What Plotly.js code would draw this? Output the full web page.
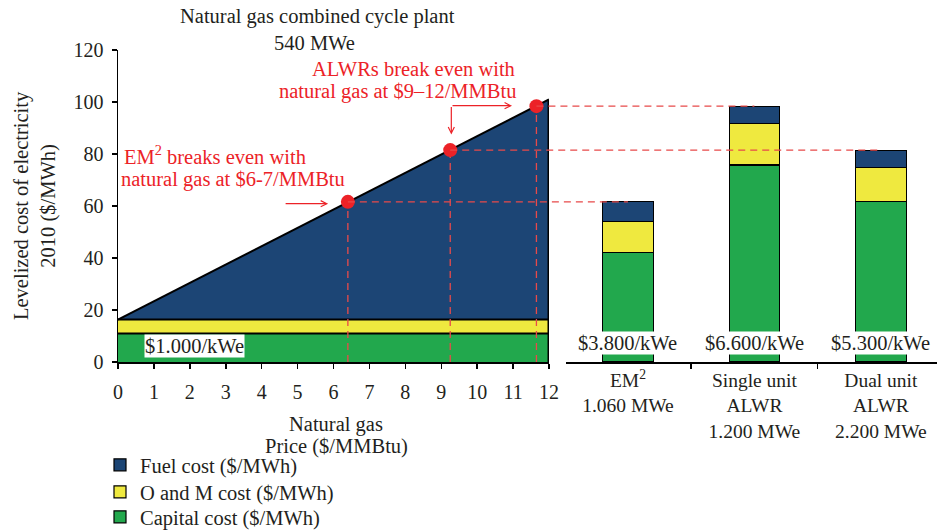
<!DOCTYPE html>
<html>
<head>
<meta charset="utf-8">
<script src="https://cdn.plot.ly/plotly-3.0.1.min.js"></script>
<style>html,body{margin:0;padding:0;background:#fff;}#chart{width:937px;height:531px;}</style>
</head>
<body>
<div id="chart"></div>
<script>
// ---- data ----
const gasPrice = [0, 12];
const gasCapital = [11, 11];
const gasOM = [5.3, 5.3];
const gasFuel = [0, 84.7];
const gasPlantCost = '$1.000/kWe';

const plantCats = ['EM<sup>2</sup><br>1.060 MWe', 'Single unit<br>ALWR<br>1.200 MWe', 'Dual unit<br>ALWR<br>2.200 MWe'];
const barCapital = [42.0, 75.8, 61.6];
const barOM = [11.9, 16.0, 13.3];
const barFuel = [7.7, 6.6, 6.6];
const overnightCost = ['$3.800/kWe', '$6.600/kWe', '$5.300/kWe'];
const breakEvenPrice = [6.4, 11.65, 9.25];

const seriesNames = ['Capital cost ($/MWh)', 'O and M cost ($/MWh)', 'Fuel cost ($/MWh)'];

// ---- styling ----
const W = 937, H = 531, T = 50, B = 169;
const plotH = H - T - B;
const px = x => x / W;
const py = y => (H - B - y) / plotH;
const GREEN = '#22a84d', YELLOW = '#efe93f', BLUE = '#1c4575';
const RED = '#ec2227', DASH = '#e84a4a';
const FONT = 'Liberation Serif, Times New Roman, serif';
const TXT = '#231f20';
const leftDom = [px(118), px(549)];
const rightDom = [px(566), 1];
const leftRange = [0, 12];
const rightRange = [-0.49, 2.444];

const totals = barCapital.map((c, i) => c + barOM[i] + barFuel[i]);
const last = gasPrice.length - 1;
const gasEndTotal = gasCapital[last] + gasOM[last] + gasFuel[last];

const traces = [];
// area (left)
const areaData = [gasCapital, gasOM, gasFuel];
const areaColors = [GREEN, YELLOW, BLUE];
areaData.forEach((d, i) => traces.push({
  x: gasPrice, y: d, type: 'scatter', mode: 'lines', stackgroup: 'gas',
  line: {color: '#000', width: 2}, fillcolor: areaColors[i],
  xaxis: 'x', yaxis: 'y', showlegend: false, hoverinfo: 'skip'
}));
traces.push({x: [gasPrice[last], gasPrice[last]], y: [0, gasEndTotal], type: 'scatter', mode: 'lines',
  line: {color: '#000', width: 3}, xaxis: 'x', yaxis: 'y', showlegend: false, hoverinfo: 'skip'});
// vertical dashed lines
breakEvenPrice.forEach((p, i) => traces.push({
  x: [p, p], y: [0, totals[i]], type: 'scatter', mode: 'lines',
  line: {color: DASH, width: 1.3, dash: '7px,5px'}, xaxis: 'x', yaxis: 'y', showlegend: false, hoverinfo: 'skip'
}));
// bars (right)
const barData = [barCapital, barOM, barFuel];
const legendIds = ['legend3', 'legend2', 'legend'];
barData.forEach((d, i) => traces.push({
  x: plantCats, y: d, type: 'bar', name: seriesNames[i], legend: legendIds[i],
  marker: {color: areaColors[i], line: {color: '#000', width: 1.2}},
  xaxis: 'x2', yaxis: 'y2'
}));
// dots
traces.push({x: breakEvenPrice, y: totals, type: 'scatter', mode: 'markers',
  marker: {color: RED, size: 14}, cliponaxis: false, xaxis: 'x', yaxis: 'y', showlegend: false, hoverinfo: 'skip'});

// horizontal dashed shapes
const shapes = breakEvenPrice.map((p, i) => ({
  type: 'line', xref: 'paper', yref: 'y',
  x0: leftDom[0] + (p - leftRange[0]) / (leftRange[1] - leftRange[0]) * (leftDom[1] - leftDom[0]),
  x1: rightDom[0] + (i - rightRange[0]) / (rightRange[1] - rightRange[0]) * (rightDom[1] - rightDom[0]),
  y0: totals[i], y1: totals[i],
  line: {color: DASH, width: 1.3, dash: '7px,5px'}
}));

const f = (size, color) => ({family: FONT, size: size, color: color || TXT});
const A = (text, x, y, xa, font, extra) => Object.assign({text: text, xref: 'paper', yref: 'paper', x: px(x), y: py(y),
  xanchor: xa, yanchor: 'middle', showarrow: false, font: font}, extra || {});
const annotations = [
  A('Natural gas combined cycle plant', 317, 17, 'center', f(20.5)),
  A('540 MWe', 314, 43, 'center', f(20.5)),
  A('ALWRs break even with', 517, 69, 'right', f(20.5, RED)),
  A('natural gas at $9–12/MMBtu', 518, 91, 'right', f(20.5, RED)),
  A('EM<sup>2</sup> breaks even with', 122, 155, 'left', f(20.5, RED)),
  A('natural gas at $6-7/MMBtu', 119, 179, 'left', f(20.5, RED)),
  A('Natural gas', 336, 424, 'center', f(20.5)),
  A('Price ($/MMBtu)', 336, 446, 'center', f(20.5)),
  A('Levelized cost of electricity<br>2010 ($/MWh)', 35, 206, 'center', f(20.5), {textangle: -90}),
  {text: gasPlantCost, xref: 'x', yref: 'y', x: 2.12, y: 6, xanchor: 'center', yanchor: 'middle', showarrow: false, bgcolor: '#fff', borderpad: 0, font: f(20.5)},
  // arrows
  {text: '', xref: 'x', yref: 'y', x: 5.85, y: 60.9, ax: -44, ay: 0, showarrow: true, arrowhead: 5, arrowsize: 1, arrowwidth: 1.2, arrowcolor: RED, standoff: 0},
  {text: '', xref: 'x', yref: 'y', x: 9.28, y: 87.5, ax: 0, ay: -29, showarrow: true, arrowhead: 5, arrowsize: 1, arrowwidth: 1.2, arrowcolor: RED, standoff: 0},
  {text: '', xref: 'x', yref: 'y', x: 10.97, y: 98.6, ax: -61, ay: 0, showarrow: true, arrowhead: 5, arrowsize: 1, arrowwidth: 1.2, arrowcolor: RED, standoff: 0}
];
overnightCost.forEach((t, i) => annotations.push({
  text: t, xref: 'x2', yref: 'y2', x: i, y: 7.5, xanchor: 'center', yanchor: 'middle', showarrow: false, bgcolor: '#fff', borderpad: 0, font: f(20.5)
}));

const axisCommon = {showline: true, linecolor: '#000', linewidth: 1.5, ticks: 'outside', ticklen: 5, tickwidth: 1.5,
  tickcolor: '#000', showgrid: false, zeroline: false, tickfont: f(20)};

const legendAt = y => ({x: px(100), y: py(y), xanchor: 'left', yanchor: 'middle', font: f(20.5), bgcolor: 'rgba(0,0,0,0)', borderwidth: 0});

const layout = {
  width: W, height: H, margin: {l: 0, r: 0, t: T, b: B, pad: 0, autoexpand: false},
  paper_bgcolor: '#fff', plot_bgcolor: 'rgba(0,0,0,0)',
  showlegend: true, barmode: 'stack', bargap: 0.6,
  xaxis: Object.assign({}, axisCommon, {domain: leftDom, range: leftRange, dtick: 1, tick0: 0, anchor: 'y', ticklabelstandoff: 6}),
  yaxis: Object.assign({}, axisCommon, {domain: [0, 1], range: [0, 120], dtick: 20, anchor: 'x', ticklabelstandoff: 4}),
  xaxis2: Object.assign({}, axisCommon, {domain: rightDom, range: rightRange, type: 'category', tickson: 'boundaries', anchor: 'y2', tickfont: f(19.5), ticklabelstandoff: 0}),
  yaxis2: {domain: [0, 1], range: [0, 120], visible: false, anchor: 'x2'},
  legend: legendAt(465),
  legend2: legendAt(492),
  legend3: legendAt(517),
  shapes: shapes, annotations: annotations
};

Plotly.newPlot('chart', traces, layout, {displayModeBar: false, staticPlot: true});
</script>
</body>
</html>
